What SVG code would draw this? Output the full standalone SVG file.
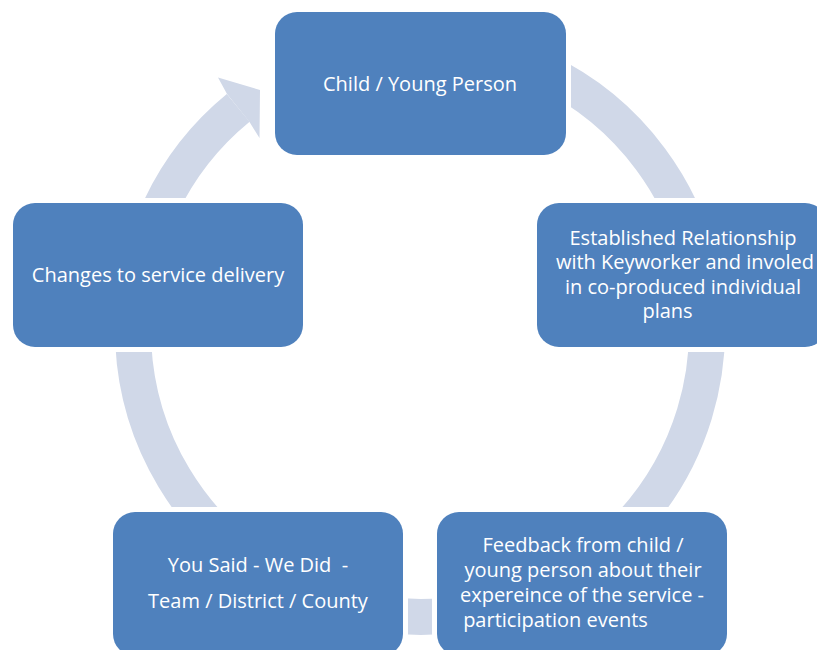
<svg xmlns="http://www.w3.org/2000/svg" width="817" height="650" viewBox="0 0 817 650">
  <style>
    .ring { fill: none; stroke: #D0D8E8; stroke-width: 36; }
    .head { fill: #D0D8E8; }
    .halo { fill: #FFFFFF; }
    .box { fill: #4F81BD; }
    .label { font-family: "Open Sans", "Noto Sans", sans-serif; font-size: 20px; fill: #FFFFFF; text-anchor: middle; }
  </style>

  <!-- cycle ring (centre 420,330, mid radius 287) with arrowhead entering the top step -->
  <g id="connectors">
    <path class="ring" d="M 420 43 A 287 287 0 1 1 238.2 107.9"/>
    <polygon class="head" points="227,94 218,77.5 260,90 259.5,138 249.5,122"/>
  </g>

  <g id="node-child">
    <rect class="halo" x="270" y="7" width="301" height="153" rx="27"/>
    <rect class="box" x="275" y="12" width="291" height="143" rx="22"/>
    <text class="label" x="420" y="91">Child / Young Person</text>
  </g>

  <g id="node-relationship">
    <rect class="halo" x="532" y="198" width="300" height="154" rx="27"/>
    <rect class="box" x="537" y="203" width="290" height="144" rx="22"/>
    <text class="label" x="683" y="244.5">Established Relationship</text>
    <text class="label" x="685" y="269">with Keyworker and involed</text>
    <text class="label" x="683" y="293.5">in co-produced individual</text>
    <text class="label" x="667.5" y="318">plans</text>
  </g>

  <g id="node-feedback">
    <rect class="halo" x="432" y="507" width="300" height="154" rx="27"/>
    <rect class="box" x="437" y="512" width="290" height="144" rx="22"/>
    <text class="label" x="583" y="552">Feedback from child /</text>
    <text class="label" x="583" y="577">young person about their</text>
    <text class="label" x="582" y="602">expereince of the service -</text>
    <text class="label" x="555.5" y="627">participation events</text>
  </g>

  <g id="node-you-said">
    <rect class="halo" x="108" y="507" width="300" height="154" rx="27"/>
    <rect class="box" x="113" y="512" width="290" height="144" rx="22"/>
    <text class="label" x="258" y="572" xml:space="preserve">You Said - We Did  -</text>
    <text class="label" x="258" y="607.5">Team / District / County</text>
  </g>

  <g id="node-changes">
    <rect class="halo" x="8" y="198" width="300" height="154" rx="27"/>
    <rect class="box" x="13" y="203" width="290" height="144" rx="22"/>
    <text class="label" x="158" y="282">Changes to service delivery</text>
  </g>
</svg>
